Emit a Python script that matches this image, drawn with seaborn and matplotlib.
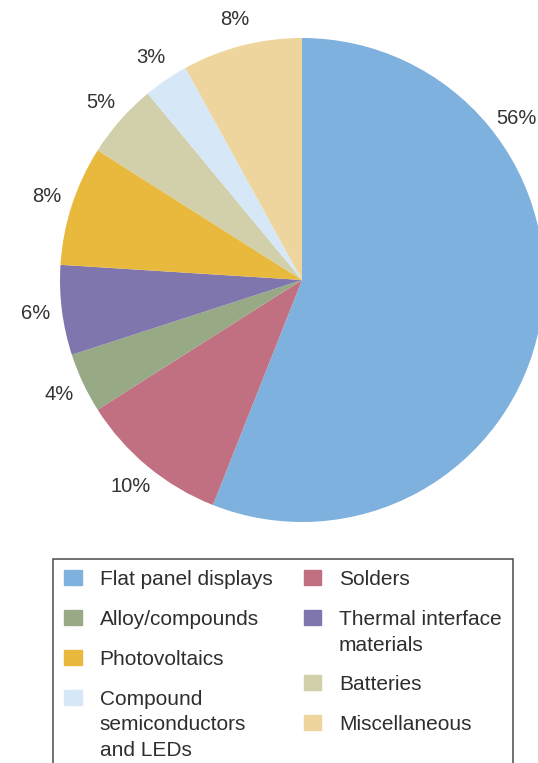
import numpy as np
import matplotlib
matplotlib.use("Agg")
import matplotlib.pyplot as plt
import seaborn as sns

# Share of end uses (percent), clockwise from 12 o'clock
categories = ["Flat panel displays", "Solders", "Alloy/compounds",
              "Thermal interface\nmaterials", "Photovoltaics", "Batteries",
              "Compound\nsemiconductors\nand LEDs", "Miscellaneous"]
shares = [56, 10, 4, 6, 8, 5, 3, 8]
colors = ["#7fb1de", "#c07080", "#97a985", "#7f76ad",
          "#e8b93c", "#d1d0ab", "#d6e7f8", "#eed59e"]
# legend order as in the figure (two columns)
legend_order = ["Flat panel displays", "Alloy/compounds", "Photovoltaics",
                "Compound\nsemiconductors\nand LEDs", "Solders",
                "Thermal interface\nmaterials", "Batteries", "Miscellaneous"]

sns.set_theme(style="white")
plt.rcParams["font.family"] = ["Liberation Sans", "DejaVu Sans"]

fig = plt.figure(figsize=(5.38, 7.63), dpi=100)
ax = fig.add_axes([60 / 538, (763 - 522) / 763, 484 / 538, 484 / 763])

pal = sns.color_palette(colors)
wedges, _ = ax.pie(shares, colors=pal, startangle=90, counterclock=False,
                   wedgeprops=dict(linewidth=0))
ax.set_xlim(-1, 1)
ax.set_ylim(-1, 1)
ax.set_aspect("equal")
ax.axis("off")

# percentage labels just outside each wedge
r_lab = 1.11
for w, v in zip(wedges, shares):
    ang = np.deg2rad((w.theta1 + w.theta2) / 2)
    if v == 56:
        ang = np.deg2rad(37)  # big slice label sits in its upper part
    ax.text(r_lab * np.cos(ang), r_lab * np.sin(ang), f"{v}%",
            ha="center", va="center", fontsize=14.5, color="#333333",
            clip_on=False)

handles = [plt.Rectangle((0, 0), 1, 1, color=pal[categories.index(c)])
           for c in legend_order]
leg = fig.legend(handles, legend_order, ncol=2, loc="upper left",
                 bbox_to_anchor=(53 / 538, 1 - 559 / 763),
                 bbox_transform=fig.transFigure, borderaxespad=0,
                 fontsize=15, frameon=True, fancybox=False, framealpha=1,
                 edgecolor="#4a4a4a", handlelength=0.82, handleheight=0.7,
                 handletextpad=0.87, columnspacing=1.5, labelspacing=1.0,
                 borderpad=0.55)
leg.get_frame().set_linewidth(1.1)
for t in leg.get_texts():
    t.set_color("#2e2e2e")
    t.set_linespacing(1.42)
# put each swatch next to the first line of its label
for col in leg._legend_handle_box.get_children():
    for row in col.get_children():
        row.align = "top"

fig.savefig("out.png", dpi=100)
